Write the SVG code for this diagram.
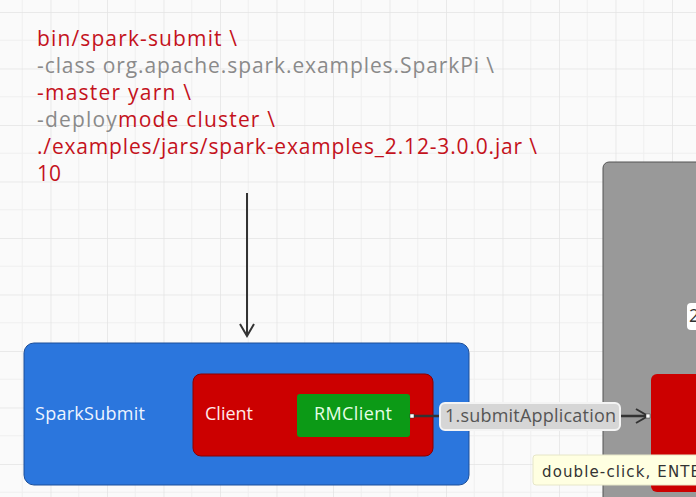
<svg xmlns="http://www.w3.org/2000/svg" width="696" height="497" viewBox="0 0 696 497">
<defs>
<pattern id="grid" x="-6" y="12" width="56.5" height="56.5" patternUnits="userSpaceOnUse">
<path d="M28.25 0V56.5M0 28.25H56.5" stroke="#efefef" stroke-width="1" fill="none"/>
<path d="M0 0V56.5M0 0H56.5" stroke="#e4e4e4" stroke-width="1.5" fill="none"/>
</pattern>
<marker id="open" markerWidth="16" markerHeight="16" refX="13" refY="8" orient="auto" markerUnits="userSpaceOnUse">
<path d="M1 1L13 8L1 15" fill="none" stroke="#333" stroke-width="2"/>
</marker>
</defs>
<style>
.cmd{font-family:"Open Sans","Liberation Sans",sans-serif;font-size:21px}
.red{fill:#c4121c}
.gray{fill:#8a8a8a}
.lbl{font-family:"Open Sans","Liberation Sans",sans-serif;font-size:18px}
</style>
<rect width="696" height="497" fill="#fafafa"/>
<rect width="696" height="497" fill="url(#grid)"/>

<g id="command">
<text class="cmd red" x="37" y="46" textLength="200">bin/spark-submit \</text>
<text class="cmd gray" x="37" y="73" textLength="457">-class org.apache.spark.examples.SparkPi \</text>
<text class="cmd red" x="37" y="100" textLength="154">-master yarn \</text>
<text class="cmd" x="37" y="127" textLength="238"><tspan class="gray">-deploy</tspan><tspan class="red">mode cluster \</tspan></text>
<text class="cmd red" x="37" y="154" textLength="500">./examples/jars/spark-examples_2.12-3.0.0.jar \</text>
<text class="cmd red" x="37" y="181" textLength="24">10</text>
</g>

<g id="cluster">
<rect x="603" y="162" width="110" height="345" rx="6" fill="#999999" stroke="#555" stroke-width="1"/>
<rect x="687" y="303" width="20" height="27" rx="4" fill="#ffffff"/>
<text class="lbl" x="689" y="322" fill="#333">2</text>
</g>
<g id="am">
<rect x="651" y="374" width="60" height="118" rx="6" fill="#cc0000"/>
</g>

<g id="sparksubmit">
<rect x="24" y="343" width="445" height="142" rx="10" fill="#2b76dd" stroke="#1d4f99" stroke-width="1"/>
<text class="lbl" x="35" y="420" fill="#eef4ff" textLength="110">SparkSubmit</text>
</g>
<g id="client">
<rect x="193" y="374" width="240" height="82" rx="8" fill="#cc0000" stroke="#8a0000" stroke-width="1"/>
<text class="lbl" x="205" y="420" fill="#ffe8e8" textLength="48">Client</text>
</g>
<g id="rmclient">
<rect x="297" y="394" width="113" height="43" rx="3" fill="#0c9a16"/>
<text class="lbl" x="314" y="420" fill="#e6ffe6" textLength="78">RMClient</text>
</g>

<g id="connectors">
<line x1="247" y1="193" x2="247" y2="336" stroke="#333" stroke-width="2" marker-end="url(#open)"/>
<line x1="412" y1="416" x2="648" y2="416" stroke="#333" stroke-width="2.5" marker-end="url(#open)"/>
<rect x="410" y="414" width="4" height="4" fill="#fff" stroke="#333" stroke-width="0.5"/>
<rect x="646" y="414" width="4" height="4" fill="#fff" stroke="#333" stroke-width="0.5"/>
<rect x="440" y="403" width="180" height="27" rx="5" fill="#d6d6d6" stroke="#f4f4f4" stroke-width="2"/>
<text class="lbl" x="445" y="422" fill="#555" textLength="171">1.submitApplication</text>
</g>

<g id="tooltip">
<rect x="533" y="455" width="175" height="30" rx="3" fill="#ffffe1" stroke="#e6e6c8" stroke-width="1"/>
<text x="542" y="477" font-family="'DejaVu Sans','Liberation Sans',sans-serif" font-size="15" fill="#333" textLength="158">double-click, ENTE</text>
</g>
</svg>
